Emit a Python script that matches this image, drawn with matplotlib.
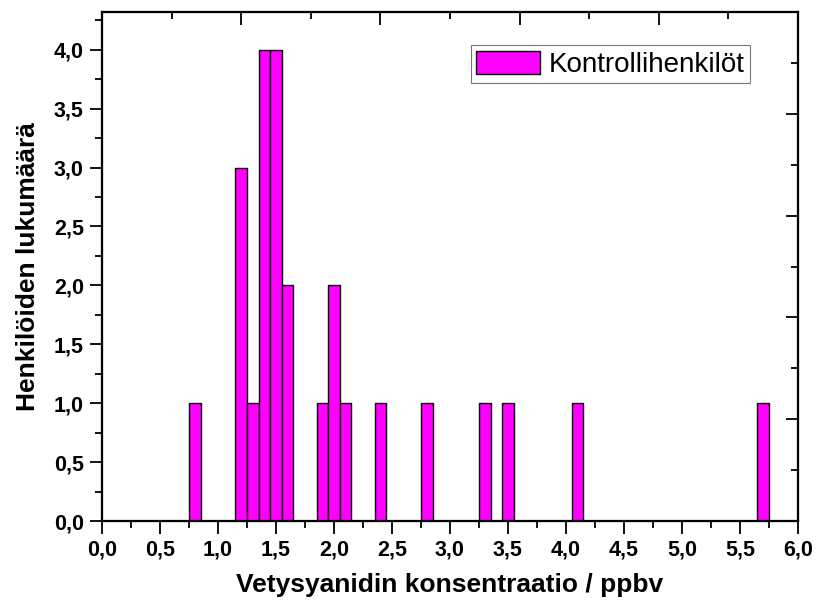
import numpy as np
import matplotlib
matplotlib.use('Agg')
import matplotlib.pyplot as plt
import matplotlib.ticker as mticker

plt.rcParams['font.family'] = ['Liberation Sans', 'DejaVu Sans']

# bar centres (ppbv) and counts
conc = [0.8, 1.2, 1.3, 1.4, 1.5, 1.6, 1.9, 2.0, 2.1, 2.4, 2.8, 3.3, 3.5, 4.1, 5.7]
counts = [1, 3, 1, 4, 4, 2, 1, 2, 1, 1, 1, 1, 1, 1, 1]
series_name = 'Kontrollihenkilöt'
xmax, ymax = 6.0, 4.32

fig = plt.figure(figsize=(8.17, 6.1), dpi=100)
ax = fig.add_axes([0.1248, 0.1459, 0.8519, 0.8344])

ax.bar(conc, counts, width=0.1, color='#ff00ff', edgecolor='black', linewidth=1.0,
       label=series_name, zorder=2)

ax.set_xlim(0, xmax)
ax.set_ylim(0, ymax)

ax.xaxis.set_major_locator(mticker.MultipleLocator(0.5))
ax.xaxis.set_minor_locator(mticker.MultipleLocator(0.25))
ax.yaxis.set_major_locator(mticker.MultipleLocator(0.5))
ax.yaxis.set_minor_locator(mticker.MultipleLocator(0.25))
fmt = mticker.FuncFormatter(lambda v, p: ('%.1f' % v).replace('.', ','))
ax.xaxis.set_major_formatter(fmt)
ax.yaxis.set_major_formatter(fmt)

ax.tick_params(which='major', direction='out', length=9, width=1.3, labelsize=15.5, pad=4)
ax.tick_params(which='minor', direction='out', length=5, width=1.3)
for lab in ax.get_xticklabels() + ax.get_yticklabels():
    lab.set_fontweight('bold')

for s in ax.spines.values():
    s.set_linewidth(1.5)

# top and right axes with inward ticks (ten divisions of the range)
axt = ax.twiny()
axt.set_xlim(0, xmax)
axt.set_xticks(np.arange(0, xmax + 0.01, xmax / 5))
axt.set_xticks(np.arange(0, xmax + 0.01, xmax / 10), minor=True)
axt.tick_params(which='major', direction='in', length=9, width=1.3, labeltop=False)
axt.tick_params(which='minor', direction='in', length=5, width=1.3)

axr = ax.twinx()
axr.set_ylim(0, ymax)
axr.set_yticks(np.arange(0, ymax + 0.001, ymax / 5))
axr.set_yticks(np.arange(0, ymax + 0.001, ymax / 10), minor=True)
axr.tick_params(which='major', direction='in', length=9, width=1.3, labelright=False)
axr.tick_params(which='minor', direction='in', length=5, width=1.3)
for a in (axt, axr):
    for s in a.spines.values():
        s.set_linewidth(1.5)

ax.set_xlabel('Vetysyanidin konsentraatio / ppbv', fontsize=19, fontweight='bold', labelpad=9)
ax.set_ylabel('Henkilöiden lukumäärä', fontsize=19, fontweight='bold', labelpad=10)

leg = ax.legend(loc='upper left', bbox_to_anchor=(0.530, 0.935), borderaxespad=0,
                fontsize=20, frameon=True, fancybox=False, edgecolor='#555555',
                handlelength=2.3, handleheight=0.9, handletextpad=0.3, borderpad=0.2)
leg.get_frame().set_linewidth(0.8)
leg.legend_handles[0].set_linewidth(1.0)

fig.savefig('out.png', dpi=100)
